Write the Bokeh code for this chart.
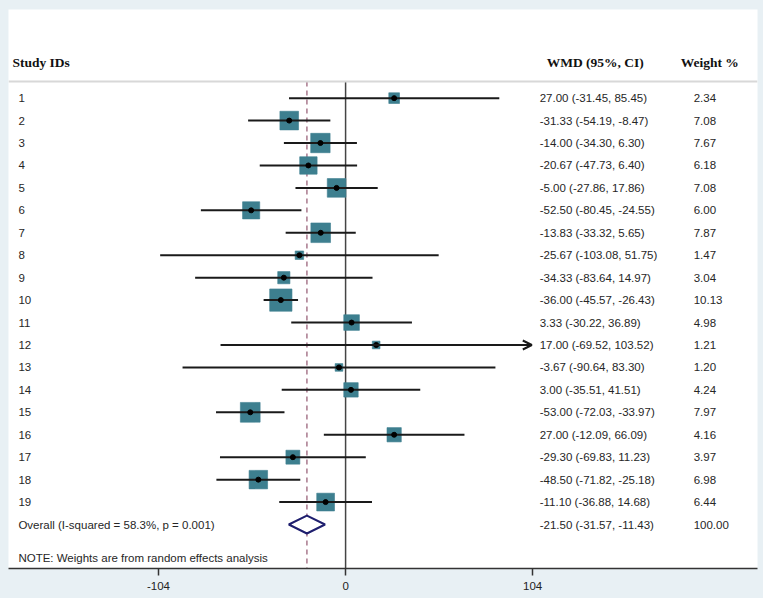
import numpy as np
from bokeh.plotting import figure
from bokeh.models import Range1d, FixedTicker, Span, Arrow, OpenHead, ColumnDataSource
from bokeh.core.properties import value
from bokeh.embed import file_html
from bokeh.resources import INLINE

# ---- data ----
study_ids = [str(i) for i in range(1, 20)]
wmd = [27.00, -31.33, -14.00, -20.67, -5.00, -52.50, -13.83, -25.67, -34.33, -36.00,
       3.33, 17.00, -3.67, 3.00, -53.00, 27.00, -29.30, -48.50, -11.10]
ci_low = [-31.45, -54.19, -34.30, -47.73, -27.86, -80.45, -33.32, -103.08, -83.64, -45.57,
          -30.22, -69.52, -90.64, -35.51, -72.03, -12.09, -69.83, -71.82, -36.88]
ci_high = [85.45, -8.47, 6.30, 6.40, 17.86, -24.55, 5.65, 51.75, 14.97, -26.43,
           36.89, 103.52, 83.30, 41.51, -33.97, 66.09, 11.23, -25.18, 14.68]
weights = [2.34, 7.08, 7.67, 6.18, 7.08, 6.00, 7.87, 1.47, 3.04, 10.13,
           4.98, 1.21, 1.20, 4.24, 7.97, 4.16, 3.97, 6.98, 6.44]
arrow_flag = [False] * 11 + [True] + [False] * 7
overall_label = "Overall  (I-squared = 58.3%, p = 0.001)"
overall_wmd, overall_low, overall_high, overall_weight = -21.50, -31.57, -11.43, 100.00
note = "NOTE: Weights are from random effects analysis"
tick_values = [-104, 0, 104]

# ---- figure ----
BG = "#e8f0f4"
x0, x1 = -187.4, 229.0
y_top, y_bot = -2.95, 21.96

p = figure(width=763, height=598, output_backend="svg", toolbar_location=None,
           x_range=Range1d(x0, x1), y_range=Range1d(y_bot, y_top),
           y_axis_location=None, min_border_left=8, min_border_right=6,
           min_border_top=9, min_border_bottom=30)
p.border_fill_color = BG
p.background_fill_color = "white"
p.outline_line_color = None
p.grid.visible = False

ax = p.xaxis[0]
ax.ticker = FixedTicker(ticks=tick_values)
ax.major_label_overrides = {t: str(t) for t in tick_values}
ax.axis_line_color = "#333333"
ax.axis_line_width = 1.5
ax.major_tick_line_color = "#333333"
ax.major_tick_line_width = 1.5
ax.major_tick_in = 0
ax.major_tick_out = 7
ax.minor_tick_line_color = None
ax.major_label_standoff = 6
ax.major_label_text_font = "Liberation Sans"
ax.major_label_text_font_size = "11.5px"
ax.major_label_text_color = "#222222"

rows = np.arange(1, len(study_ids) + 1)
overall_row = len(study_ids) + 1
note_row = overall_row + 1.47
header_row = -0.585
rule_row = 0.263

# header rule
p.add_layout(Span(location=rule_row, dimension="width", line_color="#d8d8d8", line_width=2))

# reference lines
p.segment(x0=[0], y0=[rule_row], x1=[0], y1=[y_bot], line_color="#444444", line_width=1.5)
p.segment(x0=[overall_wmd], y0=[rule_row], x1=[overall_wmd], y1=[y_bot],
          line_color="#a8788c", line_width=1.5, line_dash="5 4")

# squares
src = ColumnDataSource(dict(
    y=rows, est=wmd, lo=ci_low, hi=ci_high,
    size=[7.0 * np.sqrt(w) for w in weights]))
p.scatter(x="est", y="y", size="size", marker="square", source=src,
          fill_color="#3d7f8f", line_color="#3d7f8f", line_alpha=0.6)

# CI lines
normal = [i for i, f in enumerate(arrow_flag) if not f]
p.segment(x0=[ci_low[i] for i in normal], y0=[rows[i] for i in normal],
          x1=[ci_high[i] for i in normal], y1=[rows[i] for i in normal],
          line_color="#1a1a1a", line_width=2)
for i, f in enumerate(arrow_flag):
    if f:
        p.add_layout(Arrow(end=OpenHead(size=9, line_width=2, line_color="#1a1a1a"),
                           x_start=ci_low[i], y_start=rows[i], x_end=ci_high[i], y_end=rows[i],
                           line_color="#1a1a1a", line_width=2))

# center dots
p.scatter(x="est", y="y", size=5, marker="circle", source=src,
          fill_color="black", line_color="black")

# overall diamond
p.patch(x=[overall_low, overall_wmd, overall_high, overall_wmd],
        y=[overall_row, overall_row - 0.4, overall_row, overall_row + 0.4],
        fill_color="white", line_color="#1e1e6e", line_width=2)

# text columns
sans = value("Liberation Sans")
serif = value("Liberation Serif")
col_id = -181.9
col_est = 107.9
col_wt = 193.5
FS = "11.5px"
TC = "#262626"

for xx, lab in [(-185.2, "Study IDs"), (111.8, "WMD (95%, CI)"), (186.3, "Weight %")]:
    p.text(x=[xx], y=[header_row], text=[lab], text_font=serif, text_font_style="bold",
           text_font_size="13.5px", text_baseline="middle", text_color="#111111")

est_txt = [f"{e:.2f} ({l:.2f}, {h:.2f})" for e, l, h in zip(wmd, ci_low, ci_high)]
wt_txt = [f"{w:.2f}" for w in weights]
p.text(x=[col_id] * len(rows), y=rows, text=study_ids, text_font=sans, text_font_size=FS,
       text_baseline="middle", text_color=TC)
p.text(x=[col_est] * len(rows), y=rows, text=est_txt, text_font=sans, text_font_size=FS,
       text_baseline="middle", text_color=TC)
p.text(x=[col_wt] * len(rows), y=rows, text=wt_txt, text_font=sans, text_font_size=FS,
       text_baseline="middle", text_color=TC)

p.text(x=[col_id], y=[overall_row], text=[overall_label], text_font=sans, text_font_size=FS,
       text_baseline="middle", text_color=TC)
p.text(x=[col_est], y=[overall_row],
       text=[f"{overall_wmd:.2f} ({overall_low:.2f}, {overall_high:.2f})"], text_font=sans,
       text_font_size=FS, text_baseline="middle", text_color=TC)
p.text(x=[col_wt], y=[overall_row], text=[f"{overall_weight:.2f}"], text_font=sans,
       text_font_size=FS, text_baseline="middle", text_color=TC)
p.text(x=[col_id], y=[note_row], text=[note], text_font=sans, text_font_size=FS,
       text_baseline="middle", text_color=TC)

html = file_html(p, INLINE)
html = html.replace("</head>", f"<style>html, body {{ background-color: {BG}; }}</style></head>", 1)
open("out.html", "w").write(html)
